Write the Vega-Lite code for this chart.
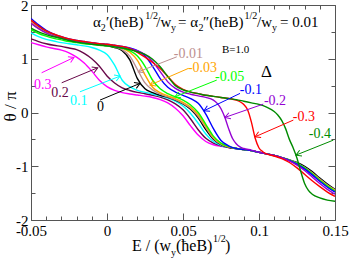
{
  "$schema": "https://vega.github.io/schema/vega-lite/v6.json",
  "width": 304,
  "height": 215,
  "autosize": {"type": "none"},
  "padding": {"left": 31, "top": 5, "right": 14, "bottom": 45},
  "background": "white",
  "config": {
    "view": {"stroke": "#555", "strokeWidth": 1},
    "font": "Liberation Serif",
    "text": {"font": "Liberation Serif"},
    "axis": {"domain": false, "grid": false, "tickColor": "#555", "labelColor": "black", "labelFont": "Liberation Serif", "titleFont": "Liberation Serif", "labelFontSize": 15, "labelFlush": false, "labelOverlap": false}
  },
  "datasets": {
    "curves": [
      {"d":"0.3","x":-0.05,"y":1.30},{"d":"0.3","x":-0.045,"y":1.26},{"d":"0.3","x":-0.04,"y":1.22},{"d":"0.3","x":-0.035,"y":1.19},{"d":"0.3","x":-0.03,"y":1.16},{"d":"0.3","x":-0.025,"y":1.11},{"d":"0.3","x":-0.02,"y":1.03},{"d":"0.3","x":-0.015,"y":0.92},{"d":"0.3","x":-0.01,"y":0.77},{"d":"0.3","x":-0.005,"y":0.6},{"d":"0.3","x":0,"y":0.48},{"d":"0.3","x":0.005,"y":0.41},{"d":"0.3","x":0.01,"y":0.37},{"d":"0.3","x":0.015,"y":0.345},{"d":"0.3","x":0.02,"y":0.325},{"d":"0.3","x":0.025,"y":0.305},{"d":"0.3","x":0.03,"y":0.28},{"d":"0.3","x":0.035,"y":0.24},{"d":"0.3","x":0.04,"y":0.18},{"d":"0.3","x":0.045,"y":0.08},{"d":"0.3","x":0.05,"y":-0.06},{"d":"0.3","x":0.055,"y":-0.25},{"d":"0.3","x":0.06,"y":-0.42},{"d":"0.3","x":0.065,"y":-0.54},{"d":"0.3","x":0.07,"y":-0.6},{"d":"0.3","x":0.075,"y":-0.63},{"d":"0.3","x":0.08,"y":-0.65},{"d":"0.3","x":0.085,"y":-0.67},{"d":"0.3","x":0.09,"y":-0.69},{"d":"0.3","x":0.095,"y":-0.71},{"d":"0.3","x":0.1,"y":-0.74},{"d":"0.3","x":0.105,"y":-0.77},{"d":"0.3","x":0.11,"y":-0.8},{"d":"0.3","x":0.115,"y":-0.845},{"d":"0.3","x":0.12,"y":-0.9},{"d":"0.3","x":0.125,"y":-0.96},{"d":"0.3","x":0.13,"y":-1.05},{"d":"0.3","x":0.135,"y":-1.16},{"d":"0.3","x":0.14,"y":-1.28},{"d":"0.3","x":0.145,"y":-1.38},{"d":"0.3","x":0.15,"y":-1.47},

      {"d":"0.2","x":-0.05,"y":1.37},{"d":"0.2","x":-0.045,"y":1.32},{"d":"0.2","x":-0.04,"y":1.28},{"d":"0.2","x":-0.035,"y":1.25},{"d":"0.2","x":-0.03,"y":1.23},{"d":"0.2","x":-0.025,"y":1.2},{"d":"0.2","x":-0.02,"y":1.17},{"d":"0.2","x":-0.015,"y":1.1},{"d":"0.2","x":-0.01,"y":1.0},{"d":"0.2","x":-0.005,"y":0.86},{"d":"0.2","x":0,"y":0.68},{"d":"0.2","x":0.005,"y":0.55},{"d":"0.2","x":0.01,"y":0.46},{"d":"0.2","x":0.015,"y":0.41},{"d":"0.2","x":0.02,"y":0.375},{"d":"0.2","x":0.025,"y":0.35},{"d":"0.2","x":0.03,"y":0.32},{"d":"0.2","x":0.035,"y":0.285},{"d":"0.2","x":0.04,"y":0.235},{"d":"0.2","x":0.045,"y":0.16},{"d":"0.2","x":0.05,"y":0.05},{"d":"0.2","x":0.055,"y":-0.12},{"d":"0.2","x":0.06,"y":-0.32},{"d":"0.2","x":0.065,"y":-0.48},{"d":"0.2","x":0.07,"y":-0.57},{"d":"0.2","x":0.075,"y":-0.62},{"d":"0.2","x":0.08,"y":-0.65},{"d":"0.2","x":0.085,"y":-0.67},{"d":"0.2","x":0.09,"y":-0.69},{"d":"0.2","x":0.095,"y":-0.71},{"d":"0.2","x":0.1,"y":-0.74},{"d":"0.2","x":0.105,"y":-0.77},{"d":"0.2","x":0.11,"y":-0.8},{"d":"0.2","x":0.115,"y":-0.84},{"d":"0.2","x":0.12,"y":-0.89},{"d":"0.2","x":0.125,"y":-0.95},{"d":"0.2","x":0.13,"y":-1.03},{"d":"0.2","x":0.135,"y":-1.13},{"d":"0.2","x":0.14,"y":-1.25},{"d":"0.2","x":0.145,"y":-1.36},{"d":"0.2","x":0.15,"y":-1.45},

      {"d":"0.1","x":-0.05,"y":1.48},{"d":"0.1","x":-0.045,"y":1.41},{"d":"0.1","x":-0.04,"y":1.36},{"d":"0.1","x":-0.035,"y":1.33},{"d":"0.1","x":-0.03,"y":1.3},{"d":"0.1","x":-0.025,"y":1.28},{"d":"0.1","x":-0.02,"y":1.26},{"d":"0.1","x":-0.015,"y":1.24},{"d":"0.1","x":-0.01,"y":1.21},{"d":"0.1","x":-0.005,"y":1.16},{"d":"0.1","x":0,"y":1.08},{"d":"0.1","x":0.005,"y":0.88},{"d":"0.1","x":0.01,"y":0.6},{"d":"0.1","x":0.015,"y":0.48},{"d":"0.1","x":0.02,"y":0.41},{"d":"0.1","x":0.025,"y":0.375},{"d":"0.1","x":0.03,"y":0.345},{"d":"0.1","x":0.035,"y":0.31},{"d":"0.1","x":0.04,"y":0.27},{"d":"0.1","x":0.045,"y":0.21},{"d":"0.1","x":0.05,"y":0.12},{"d":"0.1","x":0.055,"y":-0.02},{"d":"0.1","x":0.06,"y":-0.2},{"d":"0.1","x":0.065,"y":-0.4},{"d":"0.1","x":0.07,"y":-0.54},{"d":"0.1","x":0.075,"y":-0.61},{"d":"0.1","x":0.08,"y":-0.65},{"d":"0.1","x":0.085,"y":-0.67},{"d":"0.1","x":0.09,"y":-0.69},{"d":"0.1","x":0.095,"y":-0.71},{"d":"0.1","x":0.1,"y":-0.74},{"d":"0.1","x":0.105,"y":-0.77},{"d":"0.1","x":0.11,"y":-0.8},{"d":"0.1","x":0.115,"y":-0.84},{"d":"0.1","x":0.12,"y":-0.88},{"d":"0.1","x":0.125,"y":-0.94},{"d":"0.1","x":0.13,"y":-1.01},{"d":"0.1","x":0.135,"y":-1.11},{"d":"0.1","x":0.14,"y":-1.23},{"d":"0.1","x":0.145,"y":-1.34},{"d":"0.1","x":0.15,"y":-1.44},

      {"d":"0","x":-0.05,"y":1.71},{"d":"0","x":-0.045,"y":1.59},{"d":"0","x":-0.04,"y":1.5},{"d":"0","x":-0.035,"y":1.43},{"d":"0","x":-0.03,"y":1.39},{"d":"0","x":-0.025,"y":1.35},{"d":"0","x":-0.02,"y":1.32},{"d":"0","x":-0.015,"y":1.3},{"d":"0","x":-0.01,"y":1.28},{"d":"0","x":-0.005,"y":1.26},{"d":"0","x":0,"y":1.24},{"d":"0","x":0.005,"y":1.21},{"d":"0","x":0.01,"y":1.15},{"d":"0","x":0.015,"y":0.98},{"d":"0","x":0.02,"y":0.63},{"d":"0","x":0.025,"y":0.44},{"d":"0","x":0.03,"y":0.37},{"d":"0","x":0.035,"y":0.32},{"d":"0","x":0.04,"y":0.28},{"d":"0","x":0.045,"y":0.23},{"d":"0","x":0.05,"y":0.16},{"d":"0","x":0.055,"y":0.06},{"d":"0","x":0.06,"y":-0.1},{"d":"0","x":0.065,"y":-0.32},{"d":"0","x":0.07,"y":-0.5},{"d":"0","x":0.075,"y":-0.6},{"d":"0","x":0.08,"y":-0.65},{"d":"0","x":0.085,"y":-0.67},{"d":"0","x":0.09,"y":-0.69},{"d":"0","x":0.095,"y":-0.71},{"d":"0","x":0.1,"y":-0.74},{"d":"0","x":0.105,"y":-0.77},{"d":"0","x":0.11,"y":-0.8},{"d":"0","x":0.115,"y":-0.84},{"d":"0","x":0.12,"y":-0.88},{"d":"0","x":0.125,"y":-0.93},{"d":"0","x":0.13,"y":-1.0},{"d":"0","x":0.135,"y":-1.1},{"d":"0","x":0.14,"y":-1.22},{"d":"0","x":0.145,"y":-1.33},{"d":"0","x":0.15,"y":-1.43},

      {"d":"-0.01","x":-0.05,"y":1.69},{"d":"-0.01","x":-0.045,"y":1.58},{"d":"-0.01","x":-0.04,"y":1.49},{"d":"-0.01","x":-0.035,"y":1.43},{"d":"-0.01","x":-0.03,"y":1.39},{"d":"-0.01","x":-0.025,"y":1.35},{"d":"-0.01","x":-0.02,"y":1.32},{"d":"-0.01","x":-0.015,"y":1.3},{"d":"-0.01","x":-0.01,"y":1.28},{"d":"-0.01","x":-0.005,"y":1.26},{"d":"-0.01","x":0,"y":1.24},{"d":"-0.01","x":0.005,"y":1.22},{"d":"-0.01","x":0.01,"y":1.17},{"d":"-0.01","x":0.015,"y":1.05},{"d":"-0.01","x":0.02,"y":0.8},{"d":"-0.01","x":0.025,"y":0.55},{"d":"-0.01","x":0.03,"y":0.42},{"d":"-0.01","x":0.035,"y":0.34},{"d":"-0.01","x":0.04,"y":0.29},{"d":"-0.01","x":0.045,"y":0.24},{"d":"-0.01","x":0.05,"y":0.17},{"d":"-0.01","x":0.055,"y":0.08},{"d":"-0.01","x":0.06,"y":-0.07},{"d":"-0.01","x":0.065,"y":-0.28},{"d":"-0.01","x":0.07,"y":-0.48},{"d":"-0.01","x":0.075,"y":-0.59},{"d":"-0.01","x":0.08,"y":-0.64},{"d":"-0.01","x":0.085,"y":-0.67},{"d":"-0.01","x":0.09,"y":-0.69},{"d":"-0.01","x":0.095,"y":-0.71},{"d":"-0.01","x":0.1,"y":-0.74},{"d":"-0.01","x":0.105,"y":-0.77},{"d":"-0.01","x":0.11,"y":-0.8},{"d":"-0.01","x":0.115,"y":-0.84},{"d":"-0.01","x":0.12,"y":-0.885},{"d":"-0.01","x":0.125,"y":-0.94},{"d":"-0.01","x":0.13,"y":-1.02},{"d":"-0.01","x":0.135,"y":-1.12},{"d":"-0.01","x":0.14,"y":-1.24},{"d":"-0.01","x":0.145,"y":-1.35},{"d":"-0.01","x":0.15,"y":-1.44},

      {"d":"-0.03","x":-0.05,"y":1.67},{"d":"-0.03","x":-0.045,"y":1.56},{"d":"-0.03","x":-0.04,"y":1.48},{"d":"-0.03","x":-0.035,"y":1.42},{"d":"-0.03","x":-0.03,"y":1.38},{"d":"-0.03","x":-0.025,"y":1.35},{"d":"-0.03","x":-0.02,"y":1.32},{"d":"-0.03","x":-0.015,"y":1.3},{"d":"-0.03","x":-0.01,"y":1.28},{"d":"-0.03","x":-0.005,"y":1.26},{"d":"-0.03","x":0,"y":1.25},{"d":"-0.03","x":0.005,"y":1.23},{"d":"-0.03","x":0.01,"y":1.2},{"d":"-0.03","x":0.015,"y":1.12},{"d":"-0.03","x":0.02,"y":0.97},{"d":"-0.03","x":0.025,"y":0.7},{"d":"-0.03","x":0.03,"y":0.47},{"d":"-0.03","x":0.035,"y":0.37},{"d":"-0.03","x":0.04,"y":0.31},{"d":"-0.03","x":0.045,"y":0.26},{"d":"-0.03","x":0.05,"y":0.19},{"d":"-0.03","x":0.055,"y":0.1},{"d":"-0.03","x":0.06,"y":-0.04},{"d":"-0.03","x":0.065,"y":-0.25},{"d":"-0.03","x":0.07,"y":-0.46},{"d":"-0.03","x":0.075,"y":-0.58},{"d":"-0.03","x":0.08,"y":-0.64},{"d":"-0.03","x":0.085,"y":-0.67},{"d":"-0.03","x":0.09,"y":-0.69},{"d":"-0.03","x":0.095,"y":-0.71},{"d":"-0.03","x":0.1,"y":-0.74},{"d":"-0.03","x":0.105,"y":-0.77},{"d":"-0.03","x":0.11,"y":-0.8},{"d":"-0.03","x":0.115,"y":-0.84},{"d":"-0.03","x":0.12,"y":-0.885},{"d":"-0.03","x":0.125,"y":-0.945},{"d":"-0.03","x":0.13,"y":-1.03},{"d":"-0.03","x":0.135,"y":-1.13},{"d":"-0.03","x":0.14,"y":-1.25},{"d":"-0.03","x":0.145,"y":-1.36},{"d":"-0.03","x":0.15,"y":-1.45},

      {"d":"-0.05","x":-0.05,"y":1.54},{"d":"-0.05","x":-0.045,"y":1.47},{"d":"-0.05","x":-0.04,"y":1.42},{"d":"-0.05","x":-0.035,"y":1.38},{"d":"-0.05","x":-0.03,"y":1.35},{"d":"-0.05","x":-0.025,"y":1.32},{"d":"-0.05","x":-0.02,"y":1.3},{"d":"-0.05","x":-0.015,"y":1.28},{"d":"-0.05","x":-0.01,"y":1.27},{"d":"-0.05","x":-0.005,"y":1.25},{"d":"-0.05","x":0,"y":1.24},{"d":"-0.05","x":0.005,"y":1.22},{"d":"-0.05","x":0.01,"y":1.2},{"d":"-0.05","x":0.015,"y":1.15},{"d":"-0.05","x":0.02,"y":1.05},{"d":"-0.05","x":0.025,"y":0.86},{"d":"-0.05","x":0.03,"y":0.6},{"d":"-0.05","x":0.035,"y":0.44},{"d":"-0.05","x":0.04,"y":0.35},{"d":"-0.05","x":0.045,"y":0.29},{"d":"-0.05","x":0.05,"y":0.23},{"d":"-0.05","x":0.055,"y":0.14},{"d":"-0.05","x":0.06,"y":0.0},{"d":"-0.05","x":0.065,"y":-0.22},{"d":"-0.05","x":0.07,"y":-0.44},{"d":"-0.05","x":0.075,"y":-0.57},{"d":"-0.05","x":0.08,"y":-0.63},{"d":"-0.05","x":0.085,"y":-0.67},{"d":"-0.05","x":0.09,"y":-0.69},{"d":"-0.05","x":0.095,"y":-0.71},{"d":"-0.05","x":0.1,"y":-0.74},{"d":"-0.05","x":0.105,"y":-0.77},{"d":"-0.05","x":0.11,"y":-0.8},{"d":"-0.05","x":0.115,"y":-0.84},{"d":"-0.05","x":0.12,"y":-0.885},{"d":"-0.05","x":0.125,"y":-0.945},{"d":"-0.05","x":0.13,"y":-1.03},{"d":"-0.05","x":0.135,"y":-1.14},{"d":"-0.05","x":0.14,"y":-1.26},{"d":"-0.05","x":0.145,"y":-1.37},{"d":"-0.05","x":0.15,"y":-1.46},

      {"d":"-0.1","x":-0.05,"y":1.75},{"d":"-0.1","x":-0.045,"y":1.63},{"d":"-0.1","x":-0.04,"y":1.53},{"d":"-0.1","x":-0.035,"y":1.46},{"d":"-0.1","x":-0.03,"y":1.41},{"d":"-0.1","x":-0.025,"y":1.37},{"d":"-0.1","x":-0.02,"y":1.34},{"d":"-0.1","x":-0.015,"y":1.32},{"d":"-0.1","x":-0.01,"y":1.3},{"d":"-0.1","x":-0.005,"y":1.28},{"d":"-0.1","x":0,"y":1.27},{"d":"-0.1","x":0.005,"y":1.25},{"d":"-0.1","x":0.01,"y":1.23},{"d":"-0.1","x":0.015,"y":1.2},{"d":"-0.1","x":0.02,"y":1.15},{"d":"-0.1","x":0.025,"y":1.05},{"d":"-0.1","x":0.03,"y":0.86},{"d":"-0.1","x":0.035,"y":0.63},{"d":"-0.1","x":0.04,"y":0.47},{"d":"-0.1","x":0.045,"y":0.38},{"d":"-0.1","x":0.05,"y":0.32},{"d":"-0.1","x":0.055,"y":0.26},{"d":"-0.1","x":0.06,"y":0.17},{"d":"-0.1","x":0.065,"y":-0.03},{"d":"-0.1","x":0.07,"y":-0.3},{"d":"-0.1","x":0.075,"y":-0.52},{"d":"-0.1","x":0.08,"y":-0.62},{"d":"-0.1","x":0.085,"y":-0.67},{"d":"-0.1","x":0.09,"y":-0.69},{"d":"-0.1","x":0.095,"y":-0.71},{"d":"-0.1","x":0.1,"y":-0.74},{"d":"-0.1","x":0.105,"y":-0.77},{"d":"-0.1","x":0.11,"y":-0.8},{"d":"-0.1","x":0.115,"y":-0.84},{"d":"-0.1","x":0.12,"y":-0.89},{"d":"-0.1","x":0.125,"y":-0.96},{"d":"-0.1","x":0.13,"y":-1.05},{"d":"-0.1","x":0.135,"y":-1.16},{"d":"-0.1","x":0.14,"y":-1.28},{"d":"-0.1","x":0.145,"y":-1.39},{"d":"-0.1","x":0.15,"y":-1.48},

      {"d":"-0.2","x":-0.05,"y":1.66},{"d":"-0.2","x":-0.045,"y":1.56},{"d":"-0.2","x":-0.04,"y":1.48},{"d":"-0.2","x":-0.035,"y":1.42},{"d":"-0.2","x":-0.03,"y":1.38},{"d":"-0.2","x":-0.025,"y":1.35},{"d":"-0.2","x":-0.02,"y":1.32},{"d":"-0.2","x":-0.015,"y":1.3},{"d":"-0.2","x":-0.01,"y":1.29},{"d":"-0.2","x":-0.005,"y":1.27},{"d":"-0.2","x":0,"y":1.26},{"d":"-0.2","x":0.005,"y":1.24},{"d":"-0.2","x":0.01,"y":1.22},{"d":"-0.2","x":0.015,"y":1.19},{"d":"-0.2","x":0.02,"y":1.15},{"d":"-0.2","x":0.025,"y":1.08},{"d":"-0.2","x":0.03,"y":0.95},{"d":"-0.2","x":0.035,"y":0.76},{"d":"-0.2","x":0.04,"y":0.57},{"d":"-0.2","x":0.045,"y":0.45},{"d":"-0.2","x":0.05,"y":0.38},{"d":"-0.2","x":0.055,"y":0.34},{"d":"-0.2","x":0.06,"y":0.31},{"d":"-0.2","x":0.065,"y":0.28},{"d":"-0.2","x":0.07,"y":0.23},{"d":"-0.2","x":0.0725,"y":0.17},{"d":"-0.2","x":0.075,"y":0.07},{"d":"-0.2","x":0.0775,"y":-0.09},{"d":"-0.2","x":0.08,"y":-0.3},{"d":"-0.2","x":0.0825,"y":-0.48},{"d":"-0.2","x":0.085,"y":-0.58},{"d":"-0.2","x":0.0875,"y":-0.64},{"d":"-0.2","x":0.09,"y":-0.67},{"d":"-0.2","x":0.095,"y":-0.7},{"d":"-0.2","x":0.1,"y":-0.74},{"d":"-0.2","x":0.105,"y":-0.77},{"d":"-0.2","x":0.11,"y":-0.8},{"d":"-0.2","x":0.115,"y":-0.84},{"d":"-0.2","x":0.12,"y":-0.9},{"d":"-0.2","x":0.125,"y":-0.98},{"d":"-0.2","x":0.13,"y":-1.08},{"d":"-0.2","x":0.135,"y":-1.2},{"d":"-0.2","x":0.14,"y":-1.32},{"d":"-0.2","x":0.145,"y":-1.43},{"d":"-0.2","x":0.15,"y":-1.52},

      {"d":"-0.3","x":-0.05,"y":1.72},{"d":"-0.3","x":-0.045,"y":1.61},{"d":"-0.3","x":-0.04,"y":1.52},{"d":"-0.3","x":-0.035,"y":1.46},{"d":"-0.3","x":-0.03,"y":1.41},{"d":"-0.3","x":-0.025,"y":1.37},{"d":"-0.3","x":-0.02,"y":1.34},{"d":"-0.3","x":-0.015,"y":1.32},{"d":"-0.3","x":-0.01,"y":1.3},{"d":"-0.3","x":-0.005,"y":1.28},{"d":"-0.3","x":0,"y":1.27},{"d":"-0.3","x":0.005,"y":1.25},{"d":"-0.3","x":0.01,"y":1.23},{"d":"-0.3","x":0.015,"y":1.19},{"d":"-0.3","x":0.02,"y":1.12},{"d":"-0.3","x":0.025,"y":1.03},{"d":"-0.3","x":0.03,"y":0.93},{"d":"-0.3","x":0.035,"y":0.82},{"d":"-0.3","x":0.04,"y":0.67},{"d":"-0.3","x":0.045,"y":0.52},{"d":"-0.3","x":0.05,"y":0.43},{"d":"-0.3","x":0.055,"y":0.38},{"d":"-0.3","x":0.06,"y":0.35},{"d":"-0.3","x":0.065,"y":0.32},{"d":"-0.3","x":0.07,"y":0.3},{"d":"-0.3","x":0.075,"y":0.28},{"d":"-0.3","x":0.08,"y":0.26},{"d":"-0.3","x":0.085,"y":0.23},{"d":"-0.3","x":0.0875,"y":0.2},{"d":"-0.3","x":0.09,"y":0.15},{"d":"-0.3","x":0.0925,"y":0.05},{"d":"-0.3","x":0.095,"y":-0.18},{"d":"-0.3","x":0.0975,"y":-0.48},{"d":"-0.3","x":0.1,"y":-0.66},{"d":"-0.3","x":0.1025,"y":-0.73},{"d":"-0.3","x":0.105,"y":-0.77},{"d":"-0.3","x":0.11,"y":-0.81},{"d":"-0.3","x":0.115,"y":-0.86},{"d":"-0.3","x":0.12,"y":-0.93},{"d":"-0.3","x":0.125,"y":-1.03},{"d":"-0.3","x":0.13,"y":-1.15},{"d":"-0.3","x":0.135,"y":-1.27},{"d":"-0.3","x":0.14,"y":-1.38},{"d":"-0.3","x":0.145,"y":-1.48},{"d":"-0.3","x":0.15,"y":-1.56},

      {"d":"-0.4","x":-0.05,"y":1.57},{"d":"-0.4","x":-0.045,"y":1.5},{"d":"-0.4","x":-0.04,"y":1.45},{"d":"-0.4","x":-0.035,"y":1.41},{"d":"-0.4","x":-0.03,"y":1.38},{"d":"-0.4","x":-0.025,"y":1.34},{"d":"-0.4","x":-0.02,"y":1.31},{"d":"-0.4","x":-0.015,"y":1.29},{"d":"-0.4","x":-0.01,"y":1.27},{"d":"-0.4","x":-0.005,"y":1.255},{"d":"-0.4","x":0,"y":1.24},{"d":"-0.4","x":0.005,"y":1.22},{"d":"-0.4","x":0.01,"y":1.2},{"d":"-0.4","x":0.015,"y":1.17},{"d":"-0.4","x":0.02,"y":1.13},{"d":"-0.4","x":0.025,"y":1.08},{"d":"-0.4","x":0.03,"y":0.99},{"d":"-0.4","x":0.035,"y":0.85},{"d":"-0.4","x":0.04,"y":0.67},{"d":"-0.4","x":0.045,"y":0.5},{"d":"-0.4","x":0.05,"y":0.42},{"d":"-0.4","x":0.055,"y":0.38},{"d":"-0.4","x":0.06,"y":0.35},{"d":"-0.4","x":0.065,"y":0.32},{"d":"-0.4","x":0.07,"y":0.3},{"d":"-0.4","x":0.075,"y":0.28},{"d":"-0.4","x":0.08,"y":0.26},{"d":"-0.4","x":0.085,"y":0.24},{"d":"-0.4","x":0.09,"y":0.21},{"d":"-0.4","x":0.095,"y":0.18},{"d":"-0.4","x":0.1,"y":0.15},{"d":"-0.4","x":0.105,"y":0.1},{"d":"-0.4","x":0.11,"y":0.02},{"d":"-0.4","x":0.1125,"y":-0.05},{"d":"-0.4","x":0.115,"y":-0.15},{"d":"-0.4","x":0.1175,"y":-0.3},{"d":"-0.4","x":0.12,"y":-0.5},{"d":"-0.4","x":0.1225,"y":-0.66},{"d":"-0.4","x":0.125,"y":-0.85},{"d":"-0.4","x":0.1275,"y":-1.1},{"d":"-0.4","x":0.13,"y":-1.32},{"d":"-0.4","x":0.1325,"y":-1.45},{"d":"-0.4","x":0.135,"y":-1.52},{"d":"-0.4","x":0.14,"y":-1.59},{"d":"-0.4","x":0.145,"y":-1.63},{"d":"-0.4","x":0.15,"y":-1.65}
    ],
    "notes": [
      {"d":"0.3","lx":-0.0422,"ly":0.51,"xs":-0.043,"ys":0.739,"xe":-0.0217,"ye":1.025},
      {"d":"0.2","lx":-0.0309,"ly":0.361,"xs":-0.0298,"ys":0.553,"xe":-0.0061,"ye":0.832},
      {"d":"0.1","lx":-0.0186,"ly":0.221,"xs":-0.0178,"ys":0.385,"xe":0.0086,"ye":0.677},
      {"d":"0","lx":-0.0043,"ly":0.106,"xs":-0.0046,"ys":0.231,"xe":0.0217,"ye":0.541},
      {"d":"-0.01","lx":0.0535,"ly":1.09,"xs":0.0459,"ys":1.036,"xe":0.0206,"ye":0.757},
      {"d":"-0.03","lx":0.0628,"ly":0.82,"xs":0.0535,"ys":0.82,"xe":0.0283,"ye":0.51},
      {"d":"-0.05","lx":0.0807,"ly":0.655,"xs":0.0722,"ys":0.603,"xe":0.0447,"ye":0.292},
      {"d":"-0.1","lx":0.0946,"ly":0.426,"xs":0.0875,"ys":0.355,"xe":0.0638,"ye":0.032},
      {"d":"-0.2","lx":0.1105,"ly":0.221,"xs":0.1028,"ys":0.156,"xe":0.0776,"ye":-0.091},
      {"d":"-0.3","lx":0.1295,"ly":-0.086,"xs":0.1226,"ys":-0.141,"xe":0.0974,"ye":-0.452},
      {"d":"-0.4","lx":0.1401,"ly":-0.402,"xs":0.1489,"ys":-0.514,"xe":0.1243,"ye":-0.793}
    ],
    "texMain": [
      {"t":"α","x":-0.00921,"y":1.589},
      {"t":"′(ħeB)","x":-0.00066,"y":1.589},
      {"t":"/w","x":0.03243,"y":1.589},
      {"t":"= α","x":0.04671,"y":1.589},
      {"t":"″(ħeB)","x":0.06316,"y":1.589},
      {"t":"/w","x":0.09868,"y":1.589},
      {"t":"= 0.01","x":0.11382,"y":1.589}
    ],
    "texSub": [
      {"t":"2","x":-0.00408,"y":1.589},
      {"t":"y","x":0.0421,"y":1.589},
      {"t":"2","x":0.0602,"y":1.589},
      {"t":"y","x":0.10855,"y":1.589}
    ],
    "texSup": [
      {"t":"1/2","x":0.0252,"y":1.589},
      {"t":"1/2","x":0.09046,"y":1.589}
    ],
    "xtMain": [
      {"t":"E / (w","x":0.01645,"y":-2.584},
      {"t":"(ħeB)","x":0.04539,"y":-2.584},
      {"t":")","x":0.07763,"y":-2.584}
    ],
    "xtSub": [{"t":"y","x":0.0421,"y":-2.584}],
    "xtSup": [{"t":"1/2","x":0.06974,"y":-2.584}],
    "texB": [{"t":"B=1.0","x":0.07566,"y":1.1}],
    "texD": [{"t":"Δ","x":0.1049,"y":0.653}]
  },
  "layer": [
    {
      "data": {"name": "curves"},
      "mark": {"type": "line", "interpolate": "monotone", "strokeWidth": 1.4, "clip": true},
      "encoding": {
        "x": {"field": "x", "type": "quantitative", "scale": {"domain": [-0.05, 0.15], "nice": false, "zero": false},
          "axis": {"orient": "bottom", "title": null, "values": [-0.05,-0.04,-0.03,-0.02,-0.01,0,0.01,0.02,0.03,0.04,0.05,0.06,0.07,0.08,0.09,0.1,0.11,0.12,0.13,0.14,0.15],
            "tickSize": {"condition": {"test": "abs(datum.value*20 - round(datum.value*20)) < 0.001", "value": -7}, "value": -4},
            "labelPadding": 10,
            "labelExpr": "abs(datum.value*20 - round(datum.value*20)) < 0.001 ? (datum.value < -0.0001 ? '-' : '') + format(abs(datum.value), '~g') : ''"}},
        "y": {"field": "y", "type": "quantitative", "scale": {"domain": [-2, 2], "nice": false, "zero": false},
          "axis": {"orient": "left", "title": "θ / π", "values": [-2,-1.5,-1,-0.5,0,0.5,1,1.5,2],
            "tickSize": {"condition": {"test": "abs(datum.value - round(datum.value)) < 0.001", "value": -7}, "value": -4},
            "labelPadding": 10,
            "labelExpr": "abs(datum.value - round(datum.value)) < 0.001 ? (datum.value < -0.0001 ? '-' : '') + format(abs(datum.value), 'd') : ''",
            "titleFontSize": 17, "titleFontWeight": "normal", "titleColor": "black",
            "titleX": -21, "titleY": 101, "titleAlign": "center", "titleBaseline": "middle", "titleAngle": -90}},
        "color": {"field": "d", "type": "nominal", "legend": null,
          "scale": {"domain": ["0.3","0.2","0.1","0","-0.01","-0.03","-0.05","-0.1","-0.2","-0.3","-0.4"],
            "range": ["#ff00ff","#670748","#00ffff","#000000","#bc8f8f","#ffa500","#00ff00","#0000ff","#9400d3","#ff0000","#008b00"]}}
      }
    },
    {
      "data": {"name": "notes"},
      "mark": {"type": "rule", "strokeWidth": 1},
      "encoding": {
        "x": {"field": "xs", "type": "quantitative", "scale": {"domain": [-0.05, 0.15], "nice": false, "zero": false},
          "axis": {"orient": "top", "title": null, "labels": false, "values": [-0.05,-0.04,-0.03,-0.02,-0.01,0,0.01,0.02,0.03,0.04,0.05,0.06,0.07,0.08,0.09,0.1,0.11,0.12,0.13,0.14,0.15],
            "tickSize": {"condition": {"test": "abs(datum.value*20 - round(datum.value*20)) < 0.001", "value": -7}, "value": -4}}},
        "y": {"field": "ys", "type": "quantitative", "scale": {"domain": [-2, 2], "nice": false, "zero": false},
          "axis": {"orient": "right", "title": null, "labels": false, "values": [-2,-1.5,-1,-0.5,0,0.5,1,1.5,2],
            "tickSize": {"condition": {"test": "abs(datum.value - round(datum.value)) < 0.001", "value": -7}, "value": -4}}},
        "x2": {"field": "xe"},
        "y2": {"field": "ye"},
        "color": {"field": "d", "type": "nominal", "legend": null}
      }
    },
    {
      "data": {"name": "notes"},
      "transform": [{"calculate": "atan2(-(datum.ye - datum.ys) * 53.75, (datum.xe - datum.xs) * 1520) * 180 / PI", "as": "ang"}],
      "mark": {"type": "point", "shape": "M -1 -0.6 L 0 0 L -1 0.6", "filled": false, "size": 110, "strokeWidth": 1, "opacity": 1},
      "encoding": {
        "x": {"field": "xe", "type": "quantitative", "axis": null},
        "y": {"field": "ye", "type": "quantitative", "axis": null},
        "angle": {"field": "ang", "type": "quantitative", "scale": null},
        "color": {"field": "d", "type": "nominal", "legend": null}
      }
    },
    {
      "data": {"name": "notes"},
      "mark": {"type": "text", "fontSize": 14, "align": "center", "baseline": "middle"},
      "encoding": {
        "x": {"field": "lx", "type": "quantitative", "axis": null},
        "y": {"field": "ly", "type": "quantitative", "axis": null},
        "text": {"field": "d"},
        "color": {"field": "d", "type": "nominal", "legend": null}
      }
    },
    {
      "data": {"name": "texMain"},
      "mark": {"type": "text", "fontSize": 15, "align": "left", "baseline": "alphabetic", "color": "black"},
      "encoding": {
        "x": {"field": "x", "type": "quantitative", "axis": null},
        "y": {"field": "y", "type": "quantitative", "axis": null},
        "text": {"field": "t"}
      }
    },
    {
      "data": {"name": "texSub"},
      "mark": {"type": "text", "fontSize": 10, "align": "left", "baseline": "alphabetic", "dy": 4, "color": "black"},
      "encoding": {
        "x": {"field": "x", "type": "quantitative", "axis": null},
        "y": {"field": "y", "type": "quantitative", "axis": null},
        "text": {"field": "t"}
      }
    },
    {
      "data": {"name": "texSup"},
      "mark": {"type": "text", "fontSize": 10, "align": "left", "baseline": "alphabetic", "dy": -8, "color": "black"},
      "encoding": {
        "x": {"field": "x", "type": "quantitative", "axis": null},
        "y": {"field": "y", "type": "quantitative", "axis": null},
        "text": {"field": "t"}
      }
    },
    {
      "data": {"name": "xtMain"},
      "mark": {"type": "text", "fontSize": 16, "align": "left", "baseline": "alphabetic", "color": "black"},
      "encoding": {
        "x": {"field": "x", "type": "quantitative", "axis": null},
        "y": {"field": "y", "type": "quantitative", "axis": null},
        "text": {"field": "t"}
      }
    },
    {
      "data": {"name": "xtSub"},
      "mark": {"type": "text", "fontSize": 10, "align": "left", "baseline": "alphabetic", "dy": 5, "color": "black"},
      "encoding": {
        "x": {"field": "x", "type": "quantitative", "axis": null},
        "y": {"field": "y", "type": "quantitative", "axis": null},
        "text": {"field": "t"}
      }
    },
    {
      "data": {"name": "xtSup"},
      "mark": {"type": "text", "fontSize": 10, "align": "left", "baseline": "alphabetic", "dy": -9, "color": "black"},
      "encoding": {
        "x": {"field": "x", "type": "quantitative", "axis": null},
        "y": {"field": "y", "type": "quantitative", "axis": null},
        "text": {"field": "t"}
      }
    },
    {
      "data": {"name": "texB"},
      "mark": {"type": "text", "fontSize": 11, "align": "left", "baseline": "alphabetic", "color": "black"},
      "encoding": {
        "x": {"field": "x", "type": "quantitative", "axis": null},
        "y": {"field": "y", "type": "quantitative", "axis": null},
        "text": {"field": "t"}
      }
    },
    {
      "data": {"name": "texD"},
      "mark": {"type": "text", "fontSize": 17, "align": "center", "baseline": "alphabetic", "color": "black"},
      "encoding": {
        "x": {"field": "x", "type": "quantitative", "axis": null},
        "y": {"field": "y", "type": "quantitative", "axis": null},
        "text": {"field": "t"}
      }
    }
  ],
  "resolve": {"axis": {"x": "independent", "y": "independent"}}
}
